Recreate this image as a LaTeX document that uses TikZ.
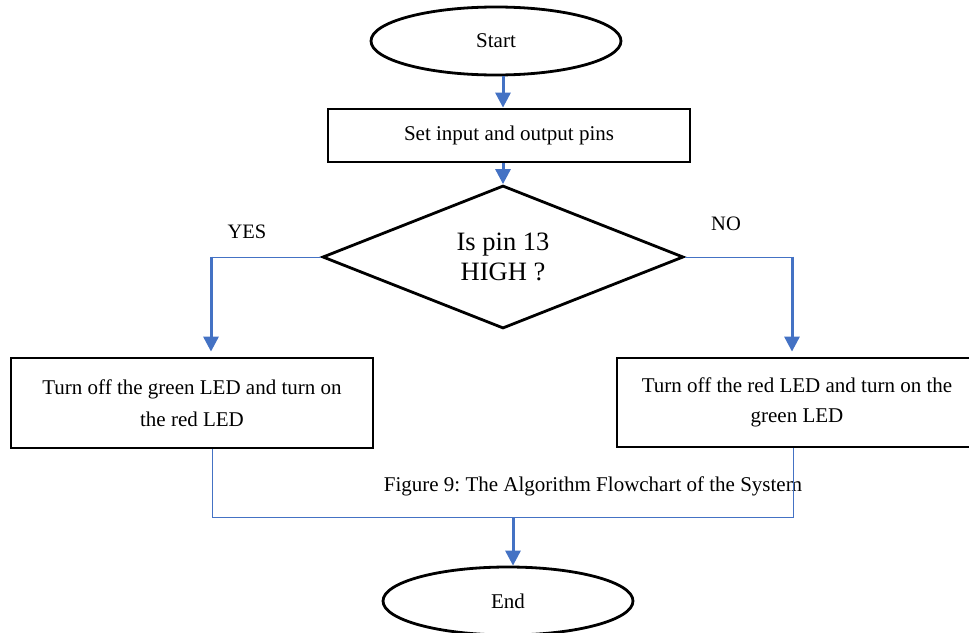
\documentclass[tikz,border=0pt]{standalone}
\usepackage{fontspec}
\setmainfont{Liberation Serif}
\usetikzlibrary{shapes.geometric,arrows.meta,calc}
\definecolor{flowblue}{HTML}{4472C4}
\frenchspacing
\begin{document}
\begin{tikzpicture}[x=1pt,y=-1pt,
  txt/.style={font=\fontsize{21}{32}\selectfont, align=center},
  shapeline/.style={draw=black, line width=2.8pt},
  oval/.style={shapeline, ellipse, inner sep=0pt, txt},
  box/.style={shapeline, rectangle, inner sep=0pt, txt},
  decision/.style={shapeline, diamond, inner sep=0pt, align=center, font=\fontsize{26.5}{29.5}\selectfont},
  flowarrow/.style={draw=flowblue, line width=3pt, -{Triangle[length=15pt,width=15pt]}},
  thinline/.style={draw=flowblue, line width=1pt},
  lbl/.style={font=\fontsize{20.5}{24}\selectfont}]
\clip (0,0) rectangle (969,632);
\useasboundingbox (0,0) rectangle (969,632);

\node[oval, minimum width=250pt, minimum height=68pt] (start) at (496,41) {Start};
\node[box, minimum width=362pt, minimum height=53pt] (set) at (509,135.5) {Set input and output pins};
\node[decision, minimum width=361pt, minimum height=143pt] (dia) at (503,257) {Is pin 13\\HIGH ?};
\node[box, minimum width=362pt, minimum height=90pt] (yes) at (192,403) {Turn off the green LED and turn on\\the red LED};
\node[box, minimum width=360pt, minimum height=89pt, font=\fontsize{21}{30}\selectfont] (no) at (797,402.5) {Turn off the red LED and turn on the\\green LED};
\node[lbl] (yeslbl) at (247,232) {YES};
\node[lbl] (nolbl) at (726,224) {NO};
\node[txt] (cap) at (593,486) {Figure 9: The Algorithm Flowchart of the System};
\node[oval, minimum width=250pt, minimum height=68pt] (end) at (508,601) {End};

\coordinate (a1) at ($(start.south)+(7,0)$);
\draw[flowarrow] (a1) -- (a1 |- set.north);
\draw[flowarrow] (set.south -| dia.north) -- (dia.north);

\coordinate (yl) at (211,257);
\coordinate (nl) at (792,257);
\draw[thinline] (dia.west) -- (yl);
\draw[thinline] (dia.east) -- (nl);
\draw[flowarrow, shorten >=5pt] ($(yl)+(0,-0.5)$) -- (yl |- yes.north);
\draw[flowarrow, shorten >=5pt] ($(nl)+(0,-0.5)$) -- (nl |- no.north);

\coordinate (yb) at (212,517);
\coordinate (nb) at (793,517);
\coordinate (mb) at (513,517);
\draw[thinline] (yb |- yes.south) -- (yb) -- (nb) -- (nb |- no.south);
\draw[flowarrow] (mb) -- (mb |- end.north);
\end{tikzpicture}
\end{document}
